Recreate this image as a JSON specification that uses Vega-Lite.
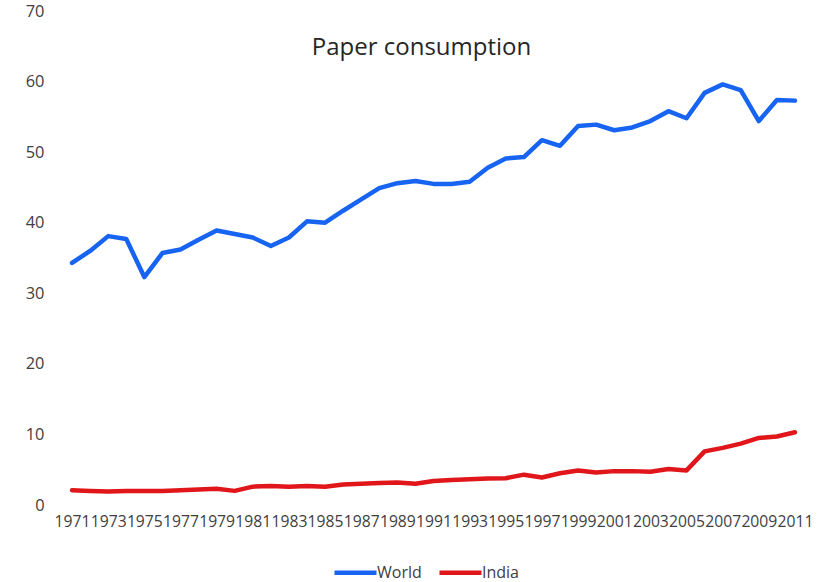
{
  "$schema": "https://vega.github.io/schema/vega-lite/v6.json",
  "width": 741,
  "height": 494,
  "autosize": {"type": "none"},
  "padding": {"left": 63, "top": 11, "right": 32, "bottom": 77},
  "background": "white",
  "title": {
    "text": "Paper consumption",
    "font": "Open Sans",
    "fontSize": 24,
    "fontWeight": "normal",
    "color": "#262626",
    "anchor": "middle",
    "baseline": "alphabetic",
    "offset": -46,
    "dy": 30,
    "dx": -12
  },
  "config": {
    "view": {"stroke": null},
    "axis": {"grid": false, "domain": false, "ticks": false, "tickSize": 0, "labelFont": "Open Sans", "labelColor": "#404040", "title": null}
  },
  "data": {
    "values": [
      {"year": 1971, "series": "World", "value": 34.3},
      {"year": 1972, "series": "World", "value": 36.0},
      {"year": 1973, "series": "World", "value": 38.1},
      {"year": 1974, "series": "World", "value": 37.7},
      {"year": 1975, "series": "World", "value": 32.3},
      {"year": 1976, "series": "World", "value": 35.7},
      {"year": 1977, "series": "World", "value": 36.2},
      {"year": 1978, "series": "World", "value": 37.6},
      {"year": 1979, "series": "World", "value": 38.9},
      {"year": 1980, "series": "World", "value": 38.4},
      {"year": 1981, "series": "World", "value": 37.9},
      {"year": 1982, "series": "World", "value": 36.7},
      {"year": 1983, "series": "World", "value": 37.9},
      {"year": 1984, "series": "World", "value": 40.2},
      {"year": 1985, "series": "World", "value": 40.0},
      {"year": 1986, "series": "World", "value": 41.7},
      {"year": 1987, "series": "World", "value": 43.3},
      {"year": 1988, "series": "World", "value": 44.9},
      {"year": 1989, "series": "World", "value": 45.6},
      {"year": 1990, "series": "World", "value": 45.9},
      {"year": 1991, "series": "World", "value": 45.5},
      {"year": 1992, "series": "World", "value": 45.5},
      {"year": 1993, "series": "World", "value": 45.8},
      {"year": 1994, "series": "World", "value": 47.8},
      {"year": 1995, "series": "World", "value": 49.1},
      {"year": 1996, "series": "World", "value": 49.3},
      {"year": 1997, "series": "World", "value": 51.7},
      {"year": 1998, "series": "World", "value": 50.9},
      {"year": 1999, "series": "World", "value": 53.7},
      {"year": 2000, "series": "World", "value": 53.9},
      {"year": 2001, "series": "World", "value": 53.1},
      {"year": 2002, "series": "World", "value": 53.5},
      {"year": 2003, "series": "World", "value": 54.4},
      {"year": 2004, "series": "World", "value": 55.8},
      {"year": 2005, "series": "World", "value": 54.8},
      {"year": 2006, "series": "World", "value": 58.4},
      {"year": 2007, "series": "World", "value": 59.6},
      {"year": 2008, "series": "World", "value": 58.8},
      {"year": 2009, "series": "World", "value": 54.4},
      {"year": 2010, "series": "World", "value": 57.4},
      {"year": 2011, "series": "World", "value": 57.3},
      {"year": 1971, "series": "India", "value": 2.1},
      {"year": 1972, "series": "India", "value": 2.0},
      {"year": 1973, "series": "India", "value": 1.9},
      {"year": 1974, "series": "India", "value": 2.0},
      {"year": 1975, "series": "India", "value": 2.0},
      {"year": 1976, "series": "India", "value": 2.0},
      {"year": 1977, "series": "India", "value": 2.1},
      {"year": 1978, "series": "India", "value": 2.2},
      {"year": 1979, "series": "India", "value": 2.3},
      {"year": 1980, "series": "India", "value": 2.0},
      {"year": 1981, "series": "India", "value": 2.6},
      {"year": 1982, "series": "India", "value": 2.7},
      {"year": 1983, "series": "India", "value": 2.6},
      {"year": 1984, "series": "India", "value": 2.7},
      {"year": 1985, "series": "India", "value": 2.6},
      {"year": 1986, "series": "India", "value": 2.9},
      {"year": 1987, "series": "India", "value": 3.0},
      {"year": 1988, "series": "India", "value": 3.1},
      {"year": 1989, "series": "India", "value": 3.2},
      {"year": 1990, "series": "India", "value": 3.0},
      {"year": 1991, "series": "India", "value": 3.4},
      {"year": 1992, "series": "India", "value": 3.55},
      {"year": 1993, "series": "India", "value": 3.65},
      {"year": 1994, "series": "India", "value": 3.75},
      {"year": 1995, "series": "India", "value": 3.8},
      {"year": 1996, "series": "India", "value": 4.3},
      {"year": 1997, "series": "India", "value": 3.9},
      {"year": 1998, "series": "India", "value": 4.5},
      {"year": 1999, "series": "India", "value": 4.9},
      {"year": 2000, "series": "India", "value": 4.6},
      {"year": 2001, "series": "India", "value": 4.8},
      {"year": 2002, "series": "India", "value": 4.8},
      {"year": 2003, "series": "India", "value": 4.7},
      {"year": 2004, "series": "India", "value": 5.1},
      {"year": 2005, "series": "India", "value": 4.9},
      {"year": 2006, "series": "India", "value": 7.6},
      {"year": 2007, "series": "India", "value": 8.1},
      {"year": 2008, "series": "India", "value": 8.7},
      {"year": 2009, "series": "India", "value": 9.5},
      {"year": 2010, "series": "India", "value": 9.7},
      {"year": 2011, "series": "India", "value": 10.3}
    ]
  },
  "mark": {"type": "line", "strokeWidth": 4.5, "strokeJoin": "round", "strokeCap": "round"},
  "encoding": {
    "x": {
      "field": "year",
      "type": "quantitative",
      "scale": {"domain": [1970.5, 2011.5], "nice": false, "zero": false},
      "axis": {
        "values": [1971, 1973, 1975, 1977, 1979, 1981, 1983, 1985, 1987, 1989, 1991, 1993, 1995, 1997, 1999, 2001, 2003, 2005, 2007, 2009, 2011],
        "format": "d",
        "labelFontSize": 15.7,
        "labelPadding": 9,
        "labelOverlap": false,
        "labelFlush": false,
        "labelBound": false
      }
    },
    "y": {
      "field": "value",
      "type": "quantitative",
      "scale": {"domain": [0, 70], "nice": false},
      "axis": {
        "values": [0, 10, 20, 30, 40, 50, 60, 70],
        "labelFontSize": 16.4,
        "labelPadding": 19,
        "labelFlush": false,
        "labelOverlap": false
      }
    },
    "color": {
      "field": "series",
      "type": "nominal",
      "sort": ["World", "India"],
      "scale": {"domain": ["World", "India"], "range": ["#1764F2", "#E0161B"]},
      "legend": {
        "title": null,
        "orient": "none",
        "direction": "horizontal",
        "legendX": 269,
        "legendY": 552,
        "symbolType": "M-1,0H5",
        "symbolSize": 196,
        "symbolStrokeWidth": 4.5,
        "labelFont": "Open Sans",
        "labelFontSize": 16,
        "labelColor": "#404040",
        "labelOffset": 26,
        "columnPadding": 8
      }
    }
  }
}
